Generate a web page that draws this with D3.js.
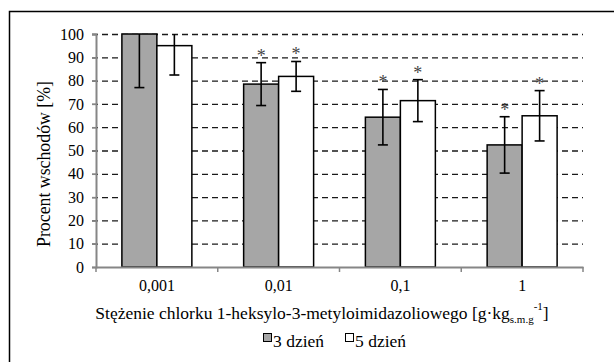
<!DOCTYPE html>
<html>
<head>
<meta charset="utf-8">
<script src="https://cdn.jsdelivr.net/npm/d3@7"></script>
<style>
  body { margin: 0; background: #fff; }
  text { font-family: "Liberation Serif", "Times New Roman", serif; }
</style>
</head>
<body>
<svg id="chart"></svg>
<script>
let categories = ["0,001", "0,01", "0,1", "1"];
let series = ["3 dzień", "5 dzień"];
let day3 = [100, 78.5, 64.3, 52.4];
let day5 = [95, 81.8, 71.4, 64.9];
let err3 = [23, 9.2, 11.9, 12.1];
let err5 = [12.6, 6.4, 9, 10.8];
let sig3 = [false, true, true, true];
let sig5 = [false, true, true, true];
let yTicks = [0, 10, 20, 30, 40, 50, 60, 70, 80, 90, 100];

showData();

function showData() {
    let width = 614;
    let height = 362;
    let margin = {top: 34, bottom: 95, left: 96, right: 31};
    let bodyWidth = width - margin.left - margin.right;
    let bodyHeight = height - margin.top - margin.bottom;

    let gray = "#a6a6a6";
    let axisColor = "#868686";
    let serif = "Liberation Serif";

    let container = d3.select("#chart")
        .attr("width", width)
        .attr("height", height);

    // outer frame (right and bottom edge fall outside the picture)
    container.append("rect")
        .attr("x", 9.5).attr("y", 11.5)
        .attr("width", 640).attr("height", 400)
        .attr("fill", "none")
        .attr("stroke", "#000")
        .attr("stroke-width", 1.5);

    let yScale = d3.scaleLinear()
        .domain([0, 100])
        .range([bodyHeight, 0])
        .clamp(true);
    let xScale = d3.scaleBand()
        .domain(categories)
        .range([0, bodyWidth]);
    let xInner = d3.scaleBand()
        .domain(series)
        .range([0, xScale.bandwidth()])
        .paddingOuter(0.74);

    let body = container.append("g")
        .attr("transform", `translate(${margin.left},${margin.top})`);

    // dashed gridlines
    body.append("g")
        .selectAll("line")
        .data(yTicks.filter(t => t > 0))
        .enter().append("line")
        .attr("x1", -4).attr("x2", bodyWidth)
        .attr("y1", d => yScale(d) + 0.5).attr("y2", d => yScale(d) + 0.5)
        .attr("stroke", "#1a1a1a")
        .attr("stroke-width", 1.3)
        .attr("stroke-dasharray", "6,4");

    let rows = categories.map((c, i) => [
        {cat: c, s: series[0], v: day3[i], e: err3[i], sig: sig3[i], fill: gray},
        {cat: c, s: series[1], v: day5[i], e: err5[i], sig: sig5[i], fill: "#fff"}
    ]).flat();

    body.append("g")
        .selectAll("rect")
        .data(rows)
        .enter().append("rect")
        .attr("x", d => xScale(d.cat) + xInner(d.s))
        .attr("y", d => yScale(d.v))
        .attr("width", xInner.bandwidth())
        .attr("height", d => bodyHeight - yScale(d.v))
        .attr("fill", d => d.fill)
        .attr("stroke", "#000")
        .attr("stroke-width", 1.5);

    // error bars
    let eb = body.append("g")
        .selectAll("g")
        .data(rows)
        .enter().append("g")
        .attr("transform", d => `translate(${xScale(d.cat) + xInner(d.s) + xInner.bandwidth() / 2},0)`);
    eb.append("line")
        .attr("y1", d => yScale(d.v - d.e))
        .attr("y2", d => yScale(d.v + d.e))
        .attr("stroke", "#000").attr("stroke-width", 1.6);
    eb.append("line")
        .attr("x1", -5).attr("x2", 5)
        .attr("y1", d => yScale(d.v - d.e)).attr("y2", d => yScale(d.v - d.e))
        .attr("stroke", "#000").attr("stroke-width", 1.6);
    eb.filter(d => d.v + d.e < 100).append("line")
        .attr("x1", -5).attr("x2", 5)
        .attr("y1", d => yScale(d.v + d.e)).attr("y2", d => yScale(d.v + d.e))
        .attr("stroke", "#000").attr("stroke-width", 1.6);
    eb.filter(d => d.sig).append("text")
        .attr("y", d => yScale(d.v + d.e) - 1)
        .attr("text-anchor", "middle")
        .attr("font-size", 18)
        .attr("fill", "#444")
        .text("*");

    // y axis
    let yAxis = body.append("g")
        .call(d3.axisLeft(yScale).tickValues(yTicks).tickSize(4).tickPadding(8));
    yAxis.select(".domain").attr("stroke", axisColor).attr("stroke-width", 2);
    yAxis.selectAll(".tick line").attr("stroke", axisColor).attr("stroke-width", 1.5);
    yAxis.selectAll("text").attr("font-size", 16).attr("fill", "#000")
        .attr("font-family", serif);

    // x axis
    let xAxis = body.append("g")
        .attr("transform", `translate(0,${bodyHeight})`)
        .call(d3.axisBottom(xScale).tickSize(0).tickPadding(13));
    xAxis.select(".domain").attr("stroke", axisColor).attr("stroke-width", 2);
    xAxis.selectAll("text").attr("font-size", 16).attr("fill", "#000")
        .attr("font-family", serif);
    body.append("g")
        .selectAll("line")
        .data(d3.range(categories.length + 1))
        .enter().append("line")
        .attr("x1", i => i * xScale.step()).attr("x2", i => i * xScale.step())
        .attr("y1", bodyHeight).attr("y2", bodyHeight + 5)
        .attr("stroke", axisColor).attr("stroke-width", 1.5);

    // y title
    container.append("text")
        .attr("transform", "translate(50,164) rotate(-90)")
        .attr("text-anchor", "middle")
        .attr("font-size", 17.8)
        .text("Procent wschodów [%]");

    // x title with sub/superscript
    let xt = container.append("text")
        .attr("x", 322).attr("y", 319)
        .attr("text-anchor", "middle")
        .attr("font-size", 17.5);
    xt.append("tspan").text("Stężenie chlorku 1-heksylo-3-metyloimidazoliowego [g·kg");
    xt.append("tspan").attr("font-size", 11).attr("dy", 4).text("s.m.g");
    xt.append("tspan").attr("font-size", 11).attr("dy", -13).text("-1");
    xt.append("tspan").attr("dy", 9).text("]");

    // legend
    let legend = container.append("g")
        .attr("transform", "translate(263,333)");
    let li = legend.selectAll("g")
        .data(series)
        .enter().append("g")
        .attr("transform", (d, i) => `translate(${i * 82},0)`);
    li.append("rect")
        .attr("width", 8).attr("height", 8)
        .attr("x", 0.5).attr("y", 0.5)
        .attr("fill", (d, i) => i === 0 ? gray : "#fff")
        .attr("stroke", "#000").attr("stroke-width", 1);
    li.append("text")
        .attr("x", 10).attr("y", 14)
        .attr("font-size", 17.5)
        .text(d => d);
}
</script>
</body>
</html>
